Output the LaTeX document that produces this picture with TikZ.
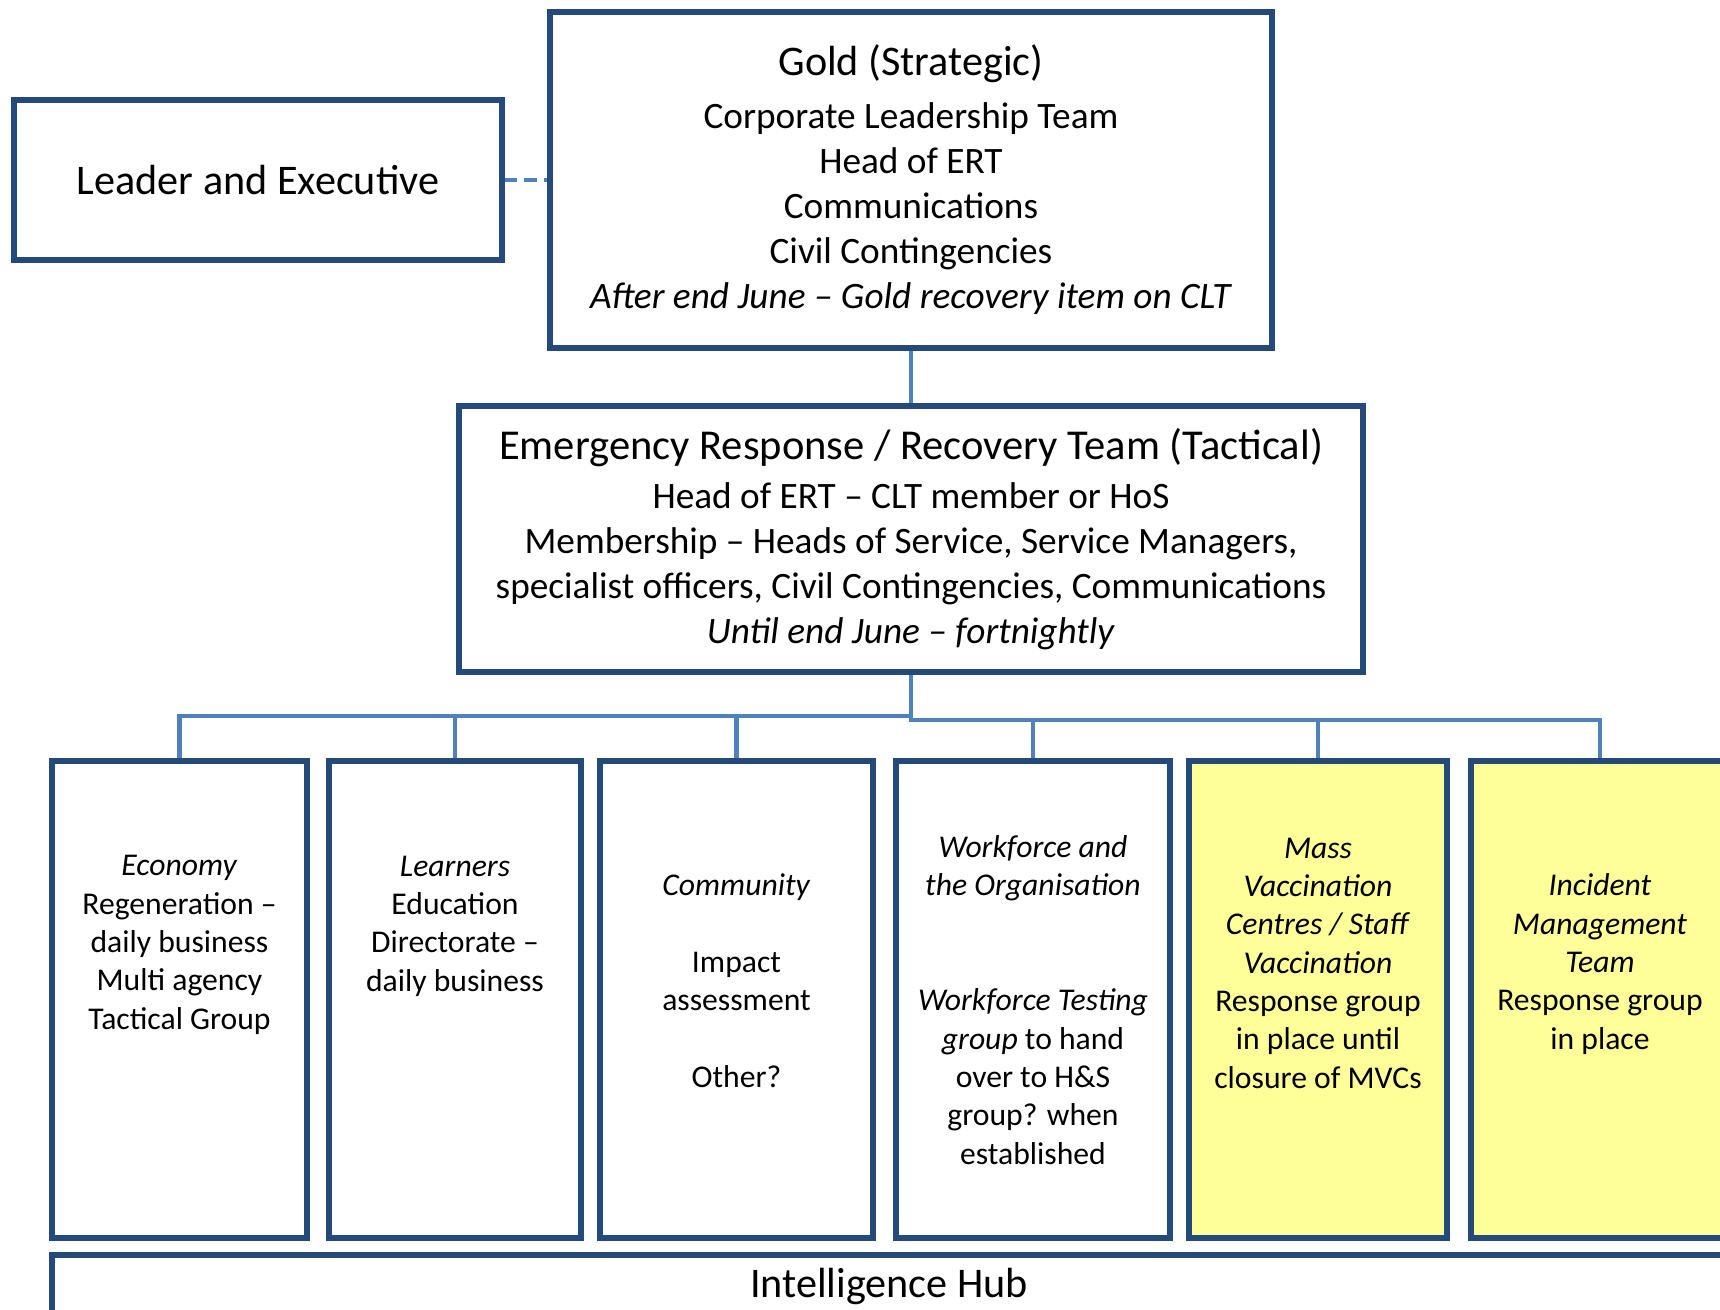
\documentclass[tikz,border=0pt]{standalone}
\usepackage{fontspec}
\setmainfont{Carlito}
\definecolor{boxblue}{HTML}{24497B}
\definecolor{linkblue}{HTML}{4F81BD}
\definecolor{panelyellow}{HTML}{FFFF99}

\begin{document}
\begin{tikzpicture}[x=0.01cm, y=-0.01cm, inner sep=0pt,
  box/.style={rectangle, draw=boxblue, line width=1.7pt, fill=white},
  panel/.style={box, minimum height=4.77cm},
  link/.style={draw=linkblue, line width=1.2pt},
  toptxt/.style={align=center, font=\fontsize{10.6}{12.8}\selectfont},
  paneltxt/.style={align=center, font=\fontsize{9}{10.9}\selectfont}]
\useasboundingbox (0,0) rectangle (1720,1310);
\clip (0,0) rectangle (1720,1310);

% top level
\node (lead) at (258,180) [box, minimum width=4.88cm, minimum height=1.6cm,
  font=\fontsize{12}{14}\selectfont] {Leader and Executive};
\node (gold) at (911,180) [box, toptxt, minimum width=7.22cm, minimum height=3.36cm]
  {{\fontsize{12}{14}\selectfont Gold (Strategic)}\\[2.3pt]
   Corporate Leadership Team\\
   Head of ERT\\
   Communications\\
   Civil Contingencies\\
   \textit{After end June – Gold recovery item on CLT}};
\node (ert) at (911,539) [box, toptxt, minimum width=9.04cm, minimum height=2.66cm]
  {{\fontsize{12.1}{14}\selectfont Emergency Response / Recovery Team (Tactical)}\\[1pt]
   Head of ERT – CLT member or HoS\\
   Membership – Heads of Service, Service Managers,\\
   specialist officers, Civil Contingencies, Communications\\
   \textit{Until end June – fortnightly}};

% cells
\node (eco) at (179.5,999.5) [panel, minimum width=2.55cm] {};
\node (lrn) at (455,999.5) [panel, minimum width=2.52cm] {};
\node (com) at (736.5,999.5) [panel, minimum width=2.73cm] {};
\node (wfo) at (1033,999.5) [panel, minimum width=2.74cm] {};
\node (mvc) at (1318,999.5) [panel, minimum width=2.58cm, fill=panelyellow] {};
\node (imt) at (1600,999.5) [panel, minimum width=2.58cm, fill=panelyellow] {};

\node (ecot) at (179.5,945) [paneltxt] {\textit{Economy}\\Regeneration –\\daily business\\Multi agency\\Tactical Group};
\node (lrnt) at (455,926) [paneltxt] {\textit{Learners}\\Education\\Directorate –\\daily business};
\node (comt) at (736.5,981) [paneltxt] {\textit{Community}\\[10.9pt]Impact\\assessment\\[10.9pt]Other?};
\node (wfot) at (1033,1000) [paneltxt] {\textit{Workforce and}\\\textit{the Organisation}\\[21.8pt]\textit{Workforce Testing}\\\textit{group} to hand\\over to H\&S\\group? when\\established};
\node (mvct) at (1318,963) [paneltxt] {\textit{Mass}\\\textit{Vaccination}\\\textit{Centres / Staff}\\\textit{Vaccination}\\Response group\\in place until\\closure of MVCs};
\node (imtt) at (1600,964) [paneltxt] {\textit{Incident}\\\textit{Management}\\\textit{Team}\\Response group\\in place};

\node (hub) at (889,1286.5) [box, minimum width=16.74cm, minimum height=0.63cm,
  font=\fontsize{12}{14}\selectfont] {Intelligence Hub};

% links
\coordinate (busl) at (911,716);
\coordinate (busr) at (911,720);
\draw[link, dash pattern=on 3.5pt off 2pt] (lead) -- (gold);
\draw[link] (gold) -- (ert);
\draw[link] (ert.south) -- (busl) -| (eco.north);
\draw[link] (busl) -| (lrn.north);
\draw[link] (busl) -| (com.north);
\draw[link] (ert.south) -- (busr) -| (wfo.north);
\draw[link] (busr) -| (mvc.north);
\draw[link] (busr) -| (imt.north);
\end{tikzpicture}
\end{document}
